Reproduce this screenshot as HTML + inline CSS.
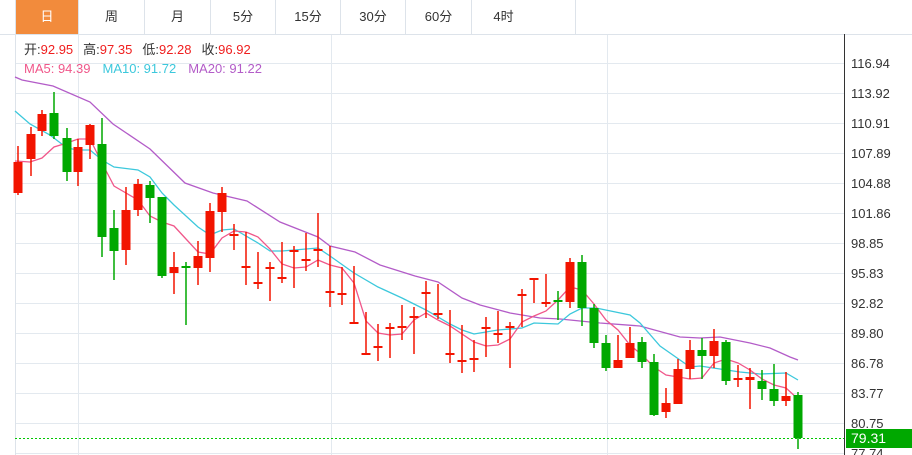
<!DOCTYPE html>
<html><head><meta charset="utf-8">
<style>
html,body{margin:0;padding:0;background:#fff;width:912px;height:455px;overflow:hidden;font-family:"Liberation Sans","Noto Sans CJK SC",sans-serif;}
.tab{position:absolute;top:0;height:34px;line-height:34px;text-align:center;font-size:13px;color:#333;border-right:1px solid #dde3ea;box-sizing:border-box}
</style></head><body>
<div class="tab" style="left:15px;width:64px;background:#f28b3c;color:#fff;border-left:1px solid #dde3ea">日</div>
<div class="tab" style="left:79px;width:66px">周</div>
<div class="tab" style="left:145px;width:66px">月</div>
<div class="tab" style="left:211px;width:65px">5分</div>
<div class="tab" style="left:276px;width:65px">15分</div>
<div class="tab" style="left:341px;width:65px">30分</div>
<div class="tab" style="left:406px;width:66px">60分</div>
<div class="tab" style="left:472px;width:104px;padding-right:40px">4时</div>
<svg id="s" width="912" height="455" style="position:absolute;left:0;top:0" xmlns="http://www.w3.org/2000/svg">
<line x1="0" y1="34.5" x2="912" y2="34.5" stroke="#dde3ea"/>
<line x1="15.5" y1="34" x2="15.5" y2="455" stroke="#dde3ea"/>
<g id="grid" stroke="#e3e9ef" stroke-width="1"></g>
<g id="ma"></g>
<g id="cd"></g>
<line x1="15" y1="438.5" x2="846" y2="438.5" stroke="#00c800" stroke-dasharray="2,2"/>
<line x1="844.5" y1="34" x2="844.5" y2="455" stroke="#333"/>
<g font-size="13" fill="#333" font-family="Liberation Sans,sans-serif">
<text x="851" y="68">116.94</text><text x="851" y="98">113.92</text><text x="851" y="128">110.91</text>
<text x="851" y="158">107.89</text><text x="851" y="188">104.88</text><text x="851" y="218">101.86</text>
<text x="851" y="248">98.85</text><text x="851" y="278">95.83</text><text x="851" y="308">92.82</text>
<text x="851" y="338">89.80</text><text x="851" y="368">86.78</text><text x="851" y="398">83.77</text>
<text x="851" y="428">80.75</text><text x="851" y="458">77.74</text>
</g>
<rect x="846" y="429" width="66" height="19" fill="#00a800"/>
<text x="851" y="443" font-size="14" fill="#fff">79.31</text>
<g font-size="13" font-family="Liberation Sans,Noto Sans CJK SC,sans-serif">
<text x="24" y="54"><tspan fill="#333">开:</tspan><tspan fill="#f01e1e">92.95</tspan><tspan fill="#333" dx="10">高:</tspan><tspan fill="#f01e1e">97.35</tspan><tspan fill="#333" dx="10">低:</tspan><tspan fill="#f01e1e">92.28</tspan><tspan fill="#333" dx="10">收:</tspan><tspan fill="#f01e1e">96.92</tspan></text>
<text x="24" y="73"><tspan fill="#f0578a">MA5: 94.39</tspan><tspan fill="#3cc8dc" dx="12">MA10: 91.72</tspan><tspan fill="#b35cc8" dx="12">MA20: 91.22</tspan></text>
</g>
</svg>
<script>
var NS="http://www.w3.org/2000/svg";
function el(p,t,a){var e=document.createElementNS(NS,t);for(var k in a)e.setAttribute(k,a[k]);document.getElementById(p).appendChild(e);}
for(var y=63;y<=453;y+=30)el('grid','line',{x1:16,x2:844,y1:y+.5,y2:y+.5});
[78,331,607].forEach(function(x){el('grid','line',{x1:x+.5,x2:x+.5,y1:35,y2:455});});
// x, open, close, high, low (pixel y)
var C=[[18,193,162,146,195],[31,159,134,127,176],[42,131,114,110,136],[54,113,136,92,139],[67,138,172,128,181],[78,172,147,139,186],[90,145,125,124,159],[102,144,237,118,257],[114,228,251,210,280],[126,250,210,187,265],[138,210,184,179,216],[150,185,198,181,223],[162,197,276,197,278],[174,273,267,252,294],[186,266,267,262,325],[198,268,256,241,285],[210,258,211,203,272],[222,212,193,187,232],
[234,234,234,224,250],[246,266,266,232,285],[258,282,282,252,289],[270,267,267,262,301],[282,277,277,242,283],[294,250,250,246,288],[306,259,259,233,271],[318,249,249,213,267],[330,291,291,246,307],[342,293,293,267,305],[354,322,322,266,322],[366,353,353,312,353],[378,346,346,324,361],[390,327,327,323,358],[402,326,326,305,340],[414,316,316,307,354],[426,292,292,281,318],[438,313,313,284,319],[450,353,353,310,363],[462,360,360,325,373],[474,358,358,340,372],[486,327,327,317,357],[498,333,333,311,343],[510,326,326,322,368],[522,294,294,289,327],[534,278,278,278,303],[546,302,302,274,307],[558,300,302,291,320],
[570,302,262,258,308],[582,262,308,255,326],[594,308,343,304,348],[606,343,368,335,371],[618,368,360,335,368],[630,358,343,327,358],[642,342,362,337,368],[654,362,415,354,416],[666,412,403,388,418],[678,404,369,359,404],[690,369,350,340,379],[702,350,356,338,379],[714,356,341,329,368],[726,342,381,340,385],[738,380,378,365,387],[750,380,377,368,409],[762,381,389,370,400],[774,389,401,364,406],[786,401,396,372,406],[798,395,438,392,449]];
C.forEach(function(c){var x=c[0],o=c[1],cl=c[2];var up=cl<=o&&!(c[0]==558);var col=up?'#f21400':'#00a800';
el('cd','line',{x1:x,x2:x,y1:c[3],y2:c[4],stroke:col,'stroke-width':1.5});
var t=Math.min(o,cl),h=Math.max(Math.abs(o-cl),2);
el('cd','rect',{x:x-4.5,y:t,width:9,height:h,fill:col});});
function pl(pts,col){el('ma','polyline',{points:pts,fill:'none',stroke:col,'stroke-width':1.3});}
pl("15,77 22,80 53,86 90,102 113,124 150,149 185,183 213,193 247,201 280,222 318,237 330,246 355,252 380,265 415,276 438,282 462,298 480,305 510,313 540,318 560,319 600,323 640,326 680,337 700,338 720,337 750,343 770,348 790,357 798,360","#b35cc8");
pl("15,111 30,124 50,135 67,148 78,150 90,150 102,160 114,167 138,170 150,177 162,193 174,205 198,227 210,235 222,230 234,229 258,243 270,251 282,251 318,248 330,256 354,273 378,287 402,298 426,310 450,324 462,330 474,334 498,330 522,328 534,323 558,324 570,314 582,308 596,308 630,315 640,323 660,346 690,367 700,366 740,372 760,374 786,373 798,380","#3cc8dc");
pl("15,161 30,162 42,158 54,147 67,143 78,139 90,139 102,163 114,186 126,193 138,200 150,216 162,222 174,226 186,239 198,252 210,254 222,238 234,231 246,232 258,237 270,249 282,264 294,268 306,267 318,260 330,265 342,268 354,283 366,321 378,333 390,335 402,334 414,320 426,313 438,320 450,326 474,342 486,346 498,345 510,339 522,322 534,316 546,311 558,300 570,287 582,290 594,304 606,320 618,330 630,345 642,355 654,367 666,375 678,377 690,379 702,378 714,363 726,359 738,363 750,370 762,379 774,385 786,388 798,399","#f0578a");
</script>
</body></html>
